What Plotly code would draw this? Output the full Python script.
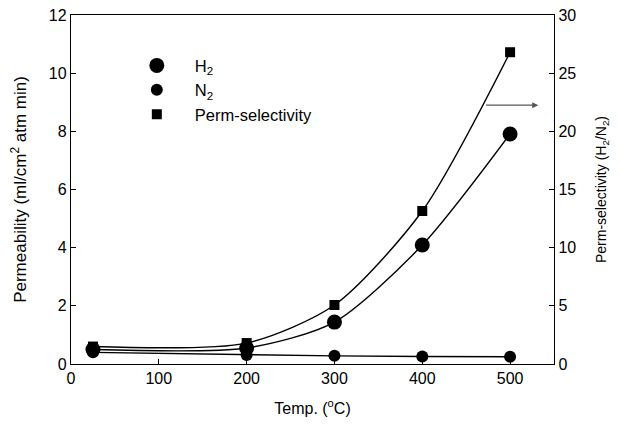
import plotly.graph_objects as go

temp = [25, 200, 300, 400, 500]
h2 = [0.5, 0.55, 1.44, 4.09, 7.91]
n2 = [0.4, 0.31, 0.28, 0.26, 0.25]
perm_sel = [1.5, 1.8, 5.07, 13.15, 26.8]

x_ticks = [0, 100, 200, 300, 400, 500]
y_ticks = [0, 2, 4, 6, 8, 10, 12]
y2_ticks = [0, 5, 10, 15, 20, 25, 30]

font = "Liberation Sans, Arial, sans-serif"

fig = go.Figure()
# data traces (no legend entries)
fig.add_trace(go.Scatter(x=temp, y=h2, name="H<sub>2</sub>", mode="lines+markers", showlegend=False,
                         line=dict(color="black", width=1.4, shape="spline", smoothing=0.75),
                         marker=dict(symbol="circle", size=15, color="black")))
fig.add_trace(go.Scatter(x=temp, y=n2, name="N<sub>2</sub>", mode="lines+markers", showlegend=False,
                         line=dict(color="black", width=1.4),
                         marker=dict(symbol="circle", size=12, color="black")))
fig.add_trace(go.Scatter(x=temp, y=perm_sel, name="Perm-selectivity", mode="lines+markers",
                         yaxis="y2", showlegend=False,
                         line=dict(color="black", width=1.4, shape="spline", smoothing=0.75),
                         marker=dict(symbol="square", size=10, color="black")))
# legend entries (markers only, like the reference)
fig.add_trace(go.Scatter(x=[None], y=[None], name="H<sub>2</sub>", mode="markers",
                         marker=dict(symbol="circle", size=15, color="black")))
fig.add_trace(go.Scatter(x=[None], y=[None], name="N<sub>2</sub>", mode="markers",
                         marker=dict(symbol="circle", size=12, color="black")))
fig.add_trace(go.Scatter(x=[None], y=[None], name="Perm-selectivity", mode="markers",
                         marker=dict(symbol="square", size=10, color="black")))

fig.add_annotation(x=532, y=8.9, ax=471, ay=8.9, xref="x", yref="y", axref="x", ayref="y",
                   text="", showarrow=True, arrowhead=2, arrowsize=1, arrowwidth=1.2,
                   arrowcolor="#555555")

axis_common = dict(showline=True, linecolor="black", linewidth=1.4, ticks="inside",
                   ticklen=5, tickcolor="black", showgrid=False, zeroline=False,
                   automargin=False, ticklabeloverflow="allow",
                   tickfont=dict(size=16, color="black", family=font))

fig.update_layout(
    width=605, height=409,
    margin=dict(l=63, r=59, t=7, b=53),
    paper_bgcolor="white", plot_bgcolor="white",
    font=dict(family=font, color="black", size=16),
    showlegend=True,
    legend=dict(x=0.099, y=0.905, xanchor="left", yanchor="top", bgcolor="rgba(0,0,0,0)",
                font=dict(size=16.5, family=font), itemwidth=66, tracegroupgap=0),
    xaxis=dict(range=[0, 550], tickvals=x_ticks, mirror=True,
               title=dict(text="Temp. (<sup>o</sup>C)", font=dict(size=16), standoff=21),
               **axis_common),
    yaxis=dict(range=[0, 12], tickvals=y_ticks,
               title=dict(text="Permeability (ml/cm<sup>2</sup> atm min)", font=dict(size=17), standoff=17),
               **axis_common),
    yaxis2=dict(range=[0, 30], tickvals=y2_ticks, overlaying="y", side="right",
                title=dict(text="Perm-selectivity (H<sub>2</sub>/N<sub>2</sub>)", font=dict(size=14), standoff=20),
                **axis_common),
)

fig.write_html("out.html")
